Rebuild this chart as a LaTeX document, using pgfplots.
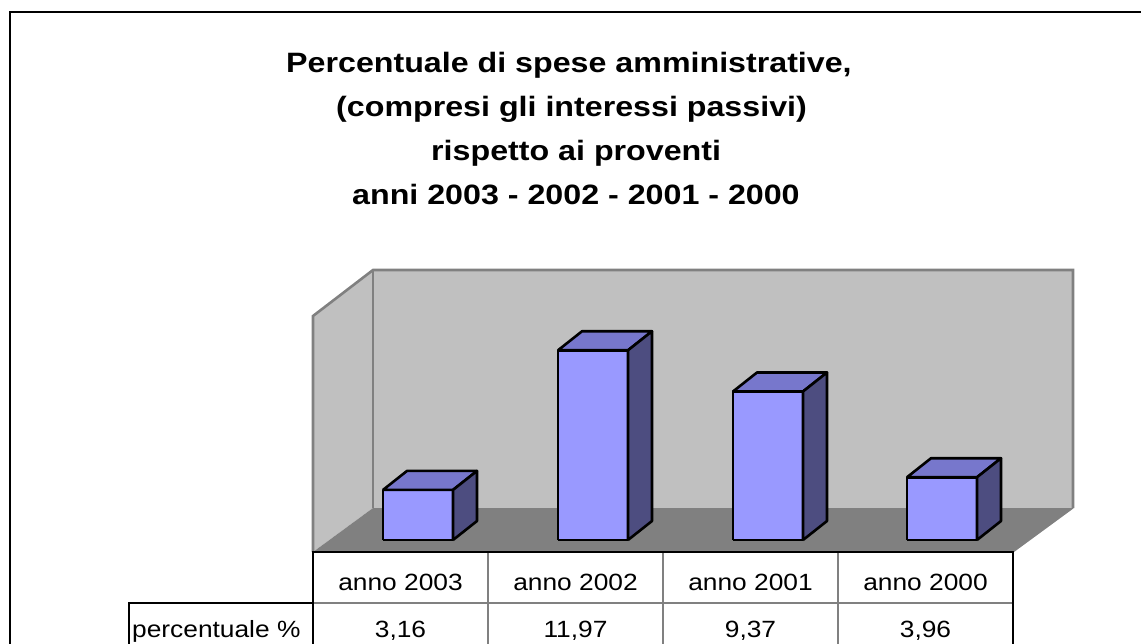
\documentclass[border=0pt]{standalone}
\usepackage{pgfplots}
\pgfplotsset{compat=1.18}
\usepackage{fontspec}
\setmainfont{Liberation Sans}
\newfontfamily\titlefont[FakeStretch=1.15]{Liberation Sans}
\newfontfamily\tabfont[FakeStretch=1.12]{Liberation Sans}
\definecolor{frontc}{HTML}{9999FF}
\definecolor{topc}{HTML}{7777CC}
\definecolor{sidec}{HTML}{4D4D80}
\definecolor{wallc}{HTML}{C0C0C0}
\definecolor{floorc}{HTML}{808080}
\definecolor{edgec}{HTML}{808080}
% #1 = left x of the front face (px), #2 = value
\newcommand\tdbar[2]{%
  \addplot[fill=frontc, draw=black, line width=2.6pt, line join=round]
    table[row sep=\\, x expr={#1+\thisrow{a}}, y expr={540-15.85*#2*\thisrow{h}-\thisrow{d}}]
    {a h d\\ 0 0 0\\ 70 0 0\\ 70 1 0\\ 0 1 0\\ 0 0 0\\};
  \addplot[fill=topc, draw=black, line width=2.6pt, line join=round]
    table[row sep=\\, x expr={#1+\thisrow{a}}, y expr={540-15.85*#2*\thisrow{h}-\thisrow{d}}]
    {a h d\\ 0 1 0\\ 70 1 0\\ 94 1 19\\ 24 1 19\\ 0 1 0\\};
  \addplot[fill=sidec, draw=black, line width=2.6pt, line join=round]
    table[row sep=\\, x expr={#1+\thisrow{a}}, y expr={540-15.85*#2*\thisrow{h}-\thisrow{d}}]
    {a h d\\ 70 0 0\\ 94 0 19\\ 94 1 19\\ 70 1 0\\ 70 0 0\\};
}
\begin{document}
\begin{tikzpicture}
\begin{axis}[hide axis, scale only axis, width=1141pt, height=643pt,
  xmin=0, xmax=1141, ymin=0, ymax=643, y dir=reverse, clip=false]
\coordinate (SW) at (0,643);
\coordinate (NE) at (1141,0);
% outer frame
\draw[black, line width=1.5pt] (10,650) -- (10,12) -- (1150,12);
% back wall
\fill[wallc] (373,508) rectangle (1073,270);
% left wall
\fill[wallc] (313,552) -- (313,316) -- (373,270) -- (373,508) -- cycle;
% floor
\fill[floorc] (313,552) -- (1013,552) -- (1073,508) -- (373,508) -- cycle;
\draw[edgec, line width=2.6pt, line join=miter] (313,552) -- (313,316) -- (373,270) -- (1073,270) -- (1073,508);
\draw[edgec, line width=2.6pt] (373,270) -- (373,508);
\draw[edgec, line width=1.2pt] (1013,552) -- (1073,508);
% bars
\tdbar{383}{3.16}
\tdbar{558}{11.97}
\tdbar{733}{9.37}
\tdbar{907}{3.96}
% table
\draw[edgec, line width=1.3pt] (313,603) -- (1013,603);
\draw[edgec, line width=1.3pt] (488,552) -- (488,650);
\draw[edgec, line width=1.3pt] (663,552) -- (663,650);
\draw[edgec, line width=1.3pt] (838,552) -- (838,650);
\draw[black, line width=1.3pt] (129,650) -- (129,603) -- (313,603);
\draw[black, line width=1.5pt] (313,552) -- (313,650);
\draw[black, line width=1.5pt] (1013,552) -- (1013,650);
\draw[black, line width=2.5pt] (312,552) -- (1014,552);
% title
\begin{scope}[every node/.style={anchor=base west, inner sep=0pt, font=\titlefont\bfseries\fontsize{28}{32}\selectfont}]
\node at (286,72) {Percentuale di spese amministrative,};
\node at (336,116) {(compresi gli interessi passivi)};
\node at (431,160) {rispetto ai proventi};
\node at (352,204) {anni 2003 - 2002 - 2001 - 2000};
\end{scope}
% table text
\begin{scope}[every node/.style={anchor=base, inner sep=0pt, font=\tabfont\fontsize{23.5}{27}\selectfont}]
\node at (400.5,590) {anno 2003};
\node at (575.5,590) {anno 2002};
\node at (750.5,590) {anno 2001};
\node at (925.5,590) {anno 2000};
\node at (400.5,637) {3,16};
\node at (575.5,637) {11,97};
\node at (750.5,637) {9,37};
\node at (925.5,637) {3,96};
\node[anchor=base west] at (132,637) {percentuale \%};
\end{scope}
\end{axis}
\pgfresetboundingbox
\useasboundingbox (SW) rectangle (NE);
\end{tikzpicture}
\end{document}
